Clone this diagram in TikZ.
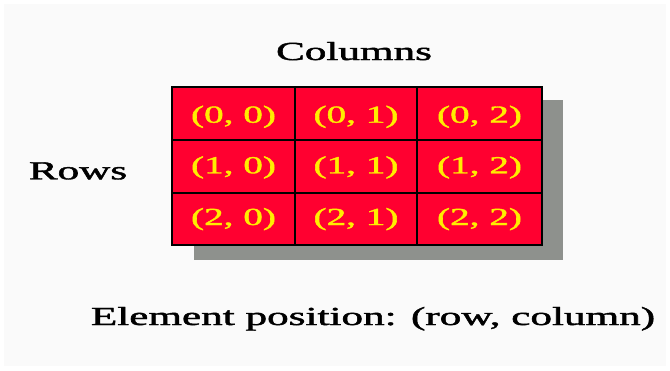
\documentclass[tikz,border=0pt]{standalone}
\usepackage{fontspec}
\setmainfont{Liberation Serif}
% a medium weight: the regular face, slightly emboldened
\newfontfamily\medserif{Liberation Serif}[FakeBold=1.4]
\definecolor{cellred}{HTML}{FF0030}
\definecolor{cellyellow}{HTML}{FFEE00}
\definecolor{shadowgray}{HTML}{8E918D}
\definecolor{paper}{HTML}{FAFAFA}
\tikzset{
  caption/.style={font=\medserif\fontsize{26}{30}\selectfont, text=black,
    inner sep=0pt, anchor=base, xscale=1.66, transform shape},
  celltext/.style={font=\medserif\fontsize{24.5}{28}\selectfont, text=cellyellow,
    inner sep=0pt, anchor=base, xscale=1.6, transform shape},
  gridline/.style={draw=black, line width=2pt}
}
\begin{document}
\begin{tikzpicture}[x=1pt, y=-1pt]
  \useasboundingbox (0,0) rectangle (670,370);
  \fill[white] (0,0) rectangle (670,370);
  \fill[paper] (4,4) rectangle (666,366);

  % drop shadow behind the array
  \fill[shadowgray] (194,100) rectangle (563,260);

  % the 3x3 array
  \fill[cellred] (172,87) rectangle (542,245);
  \draw[gridline] (295,87) -- (295,245);
  \draw[gridline] (417,87) -- (417,245);
  \draw[gridline] (172,140) -- (542,140);
  \draw[gridline] (172,193) -- (542,193);
  \draw[gridline] (172,87) rectangle (542,245);

  % element indices
  \foreach \r/\yb in {0/122.7, 1/173.3, 2/225} {
    \foreach \c/\xc in {0/233.5, 1/356, 2/479.5} {
      \node[celltext] (c\r\c) at (\xc,\yb) {(\r, \c)};
    }
  }

  % labels
  \node[caption] (columns) at (354,60) {Columns};
  \node[caption] (rows) at (78,179.3) {Rows};
  \node[caption] (legend) at (373,325) {Element position: (row, column)};
\end{tikzpicture}
\end{document}
